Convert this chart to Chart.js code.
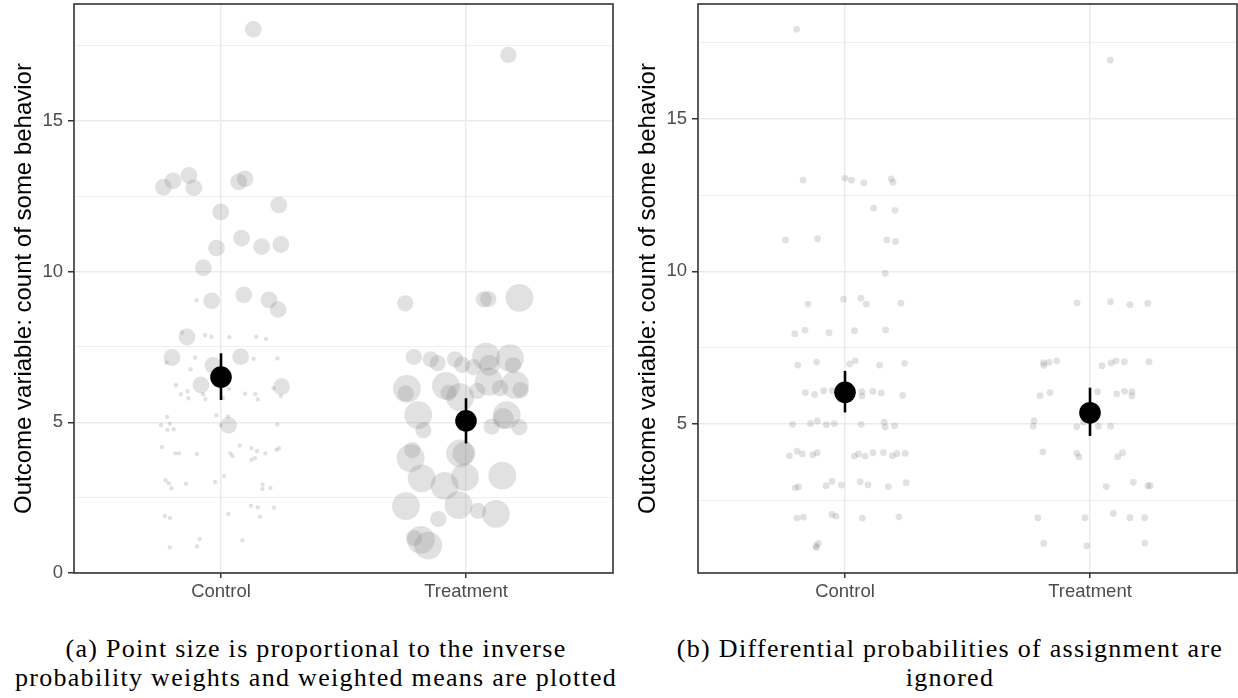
<!DOCTYPE html>
<html>
<head>
<meta charset="utf-8">
<script src="https://cdn.jsdelivr.net/npm/chart.js@4.4.1/dist/chart.umd.min.js"></script>
<style>
  body { margin: 0; background: #fff; width: 1238px; height: 698px; position: relative; overflow: hidden; }
  canvas { position: absolute; top: 0; }
  #weightedChart { left: 0; }
  #unweightedChart { left: 624px; }
  .caption {
    position: absolute;
    top: 634px;
    font-family: "Liberation Serif", serif;
    font-size: 26px;
    letter-spacing: 1.3px;
    line-height: 29px;
    text-align: center;
    color: #000;
    white-space: nowrap;
  }
  #captionA { left: 0; width: 632px; }
  #captionB { left: 650px; width: 600px; }
</style>
</head>
<body>
<canvas id="weightedChart" width="614" height="610"></canvas>
<canvas id="unweightedChart" width="614" height="610"></canvas>
<div class="caption" id="captionA">(a) Point size is proportional to the inverse<br>probability weights and weighted means are plotted</div>
<div class="caption" id="captionB">(b) Differential probabilities of assignment are<br>ignored</div>

<script>
const groups = ["Control", "Treatment"];
const yTitle = "Outcome variable: count of some behavior";

// panel (a): every unit sized by its inverse probability weight
const ctrlJitterA = [0.132, -0.235, -0.196, -0.131, -0.111, 0.072, 0.098, -0.001, 0.236, 0.084, -0.018, 0.166, 0.244, -0.072, -0.038, 0.093, 0.196, 0.233, -0.139, -0.200, 0.080, -0.033, -0.082, 0.247, 0.031,
  -0.100, -0.159, -0.065, -0.039, 0.034, 0.144, 0.184, -0.222, -0.106, 0.133, 0.230, -0.124, -0.184, -0.137, -0.164, -0.133, -0.064, -0.073, 0.033, 0.008, 0.098, 0.140, 0.150, 0.215, 0.244,
  -0.220, -0.245, -0.209, -0.219, -0.193, -0.019, 0.029, -0.001, 0.230, -0.241, -0.186, -0.171, -0.099, 0.038, 0.047, 0.076, 0.124, 0.147, 0.138, 0.124, 0.181, 0.227, 0.236,
  -0.226, -0.213, -0.202, -0.143, -0.024, 0.012, 0.170, 0.169, 0.202, -0.229, -0.208, 0.030, 0.122, 0.150, 0.159, 0.216, -0.087, -0.098, -0.209, 0.087];
const ctrlOutcomeA = [18.04, 12.80, 13.01, 13.19, 12.78, 12.98, 13.08, 11.98, 12.21, 11.11, 10.78, 10.83, 10.90, 10.13, 9.03, 9.23, 9.06, 8.74, 7.83, 7.15, 7.18, 6.89, 6.24, 6.18, 4.90,
  9.05, 7.98, 7.89, 7.84, 7.82, 7.84, 7.77, 6.98, 7.14, 7.11, 7.12, 6.76, 6.23, 6.03, 5.93, 5.80, 5.77, 5.93, 6.11, 5.81, 5.95, 5.93, 5.76, 6.13, 5.87,
  5.18, 4.91, 4.95, 4.75, 4.77, 5.23, 5.19, 4.90, 4.93, 4.18, 3.97, 3.97, 3.95, 3.97, 3.88, 4.23, 4.14, 4.05, 3.81, 3.75, 3.97, 4.09, 4.14,
  3.08, 2.98, 2.81, 2.96, 3.02, 3.21, 2.94, 2.79, 2.82, 1.89, 1.83, 1.96, 2.23, 2.18, 1.87, 2.17, 1.13, 0.89, 0.85, 1.09];
const ctrlWeightA = [16, 16, 16, 16, 16, 16, 16, 16, 16, 16, 16, 16, 16, 16, 16, 16, 16, 16, 16, 16, 16, 16, 16, 16, 16,
  1.1, 1.1, 1.1, 1.1, 1.1, 1.1, 1.1, 1.1, 1.1, 1.1, 1.1, 1.1, 1.1, 1.1, 1.1, 1.1, 1.1, 1.1, 1.1, 1.1, 1.1, 1.1, 1.1, 1.1, 1.1,
  1.1, 1.1, 1.1, 1.1, 1.1, 1.1, 1.1, 1.1, 1.1, 1.1, 1.1, 1.1, 1.1, 1.1, 1.1, 1.1, 1.1, 1.1, 1.1, 1.1, 1.1, 1.1, 1.1,
  1.1, 1.1, 1.1, 1.1, 1.1, 1.1, 1.1, 1.1, 1.1, 1.1, 1.1, 1.1, 1.1, 1.1, 1.1, 1.1, 1.1, 1.1, 1.1, 1.1];

const trtJitterA = [-0.248, 0.073, 0.091, 0.218, 0.173, -0.213, -0.144, -0.116, -0.045, -0.016, 0.030, 0.082, 0.180, 0.192, 0.095, -0.241,
  -0.246, -0.082, -0.071, -0.024, 0.046, 0.093, 0.139, 0.200, 0.223, -0.195, -0.174, 0.166, 0.152, 0.105, 0.218, -0.226,
  -0.219, -0.024, -0.008, -0.181, -0.087, -0.004, 0.148, -0.245, -0.113, -0.030, 0.049, 0.122, -0.184, -0.154, -0.212];
const trtOutcomeA = [8.95, 9.08, 9.09, 9.13, 17.19, 7.17, 7.09, 6.96, 7.09, 6.91, 6.83, 7.18, 7.13, 6.89, 6.89, 6.11,
  5.96, 6.21, 5.98, 5.83, 6.04, 6.35, 6.13, 6.24, 6.07, 5.24, 4.74, 5.24, 5.13, 4.86, 4.84, 3.81,
  4.08, 3.97, 3.97, 3.14, 2.89, 3.18, 3.23, 2.22, 1.79, 2.25, 2.06, 1.96, 1.10, 0.91, 1.16];
const trtWeightA = [15, 15, 15, 44, 15, 15, 15, 15, 15, 15, 15, 44, 44, 15, 25, 44,
  15, 44, 15, 44, 15, 44, 15, 44, 15, 44, 15, 44, 25, 15, 15, 44,
  15, 44, 30, 44, 44, 44, 44, 44, 15, 44, 15, 44, 44, 44, 15];

// weighted group means with their intervals
const meanA = [6.50, 5.05];
const lowerA = [5.74, 4.30];
const upperA = [7.29, 5.80];

// panel (b): same outcomes, no weighting
const ctrlJitterB = [-0.197, -0.171, 0.000, 0.026, 0.077, 0.189, 0.196, 0.117, 0.204, -0.243, -0.112, 0.171, 0.206, 0.164,
  -0.151, -0.006, 0.065, 0.087, 0.228, -0.205, -0.163, -0.065, 0.039, 0.166, -0.193, -0.116, 0.019, 0.042, 0.141, 0.243,
  -0.162, -0.124, -0.087, -0.053, 0.069, 0.069, 0.114, 0.148, 0.235, -0.214, -0.141, -0.113, -0.076, -0.044, 0.066, 0.160, 0.164, 0.202,
  -0.227, -0.196, -0.174, -0.132, -0.114, 0.038, 0.055, 0.082, 0.114, 0.157, 0.193, 0.212, 0.246,
  -0.203, -0.190, -0.077, -0.053, -0.015, 0.062, 0.094, 0.177, 0.250, -0.196, -0.170, -0.053, -0.037, 0.071, 0.220, -0.118, -0.109, -0.117];
const ctrlOutcomeB = [17.93, 12.99, 13.05, 12.99, 12.90, 13.03, 12.92, 12.07, 12.00, 11.03, 11.07, 11.03, 10.98, 9.94,
  8.93, 9.09, 9.12, 8.93, 8.96, 7.96, 8.07, 7.99, 8.06, 8.08, 6.93, 7.03, 6.97, 7.07, 6.93, 6.99,
  6.03, 5.97, 6.09, 6.09, 6.06, 5.92, 6.07, 6.02, 5.94, 4.99, 5.02, 5.10, 4.98, 5.01, 4.99, 5.06, 4.90, 4.94,
  3.96, 4.11, 4.02, 3.99, 4.06, 3.95, 4.02, 3.95, 4.06, 4.07, 3.96, 4.03, 4.04,
  2.91, 2.94, 2.98, 3.12, 3.00, 3.11, 3.01, 2.95, 3.08, 1.92, 1.95, 2.04, 1.98, 1.92, 1.96, 1.01, 1.09, 0.95];

const trtJitterB = [0.083, -0.053, 0.084, 0.163, 0.236, -0.190, -0.188, -0.167, -0.136, 0.049, 0.086, 0.106, 0.140, 0.241,
  -0.204, -0.163, 0.031, 0.109, 0.141, 0.171, 0.171, -0.228, -0.232, -0.054, -0.027, 0.034, 0.084,
  -0.192, -0.054, -0.045, 0.113, 0.133, 0.066, 0.177, 0.236, 0.245, -0.213, -0.020, 0.095, 0.163, 0.223, -0.189, -0.013, 0.224];
const trtOutcomeB = [16.92, 8.97, 9.01, 8.91, 8.95, 7.01, 6.92, 7.02, 7.07, 6.91, 7.00, 7.07, 7.04, 7.04,
  5.93, 6.03, 6.06, 5.99, 6.07, 6.06, 5.92, 5.11, 4.93, 4.91, 5.06, 4.93, 4.93,
  4.09, 4.04, 3.92, 3.93, 4.06, 2.95, 3.09, 2.98, 2.98, 1.93, 1.93, 2.07, 1.93, 1.93, 1.09, 1.01, 1.10];

const meanB = [6.04, 5.37];
const lowerB = [5.38, 4.61];
const upperB = [6.74, 6.19];

const yTicksA = [0, 2.5, 5, 7.5, 10, 12.5, 15, 17.5];
const yTicksB = [2.5, 5, 7.5, 10, 12.5, 15, 17.5];

const pointFill = "rgba(127,127,127,0.23)";
const gridColor = "#ebebeb";
const tickFont = { family: "'Liberation Sans', Arial, sans-serif", size: 18.5 };

// jittered position inside a category
function toPoints(group, jitter, values) {
  return jitter.map((j, i) => ({ x: group + j, y: values[i] }));
}

// point size follows the weight (area scale)
function weightRadius(w) {
  return 2.1 * Math.sqrt(w);
}

// frame round the plotting panel
const panelBorder = {
  id: "panelBorder",
  afterDraw(chart) {
    const { ctx, chartArea: a } = chart;
    ctx.save();
    ctx.strokeStyle = "#333333";
    ctx.lineWidth = 1.6;
    ctx.strokeRect(a.left, a.top, a.right - a.left, a.bottom - a.top);
    ctx.restore();
  },
};

function buildPanel(canvasId, ctrlPts, ctrlR, trtPts, trtR, means, lower, upper, yMin, yMax, yTicks) {
  const datasets = [
    { data: ctrlPts, pointRadius: ctrlR, backgroundColor: pointFill, borderWidth: 0, order: 3 },
    { data: trtPts, pointRadius: trtR, backgroundColor: pointFill, borderWidth: 0, order: 3 },
  ];
  // interval lines
  means.forEach((m, i) => {
    datasets.push({
      data: [{ x: i + 1, y: lower[i] }, { x: i + 1, y: upper[i] }],
      showLine: true,
      borderColor: "#000",
      borderWidth: 2.6,
      pointRadius: 0,
      order: 2,
    });
  });
  // group means
  datasets.push({
    data: means.map((m, i) => ({ x: i + 1, y: m })),
    pointRadius: 10.8,
    backgroundColor: "#000",
    borderWidth: 0,
    order: 1,
  });

  return new Chart(document.getElementById(canvasId), {
    type: "scatter",
    data: { datasets: datasets },
    options: {
      responsive: false,
      animation: false,
      events: [],
      layout: { autoPadding: false, padding: { top: 4, right: 1, bottom: 0, left: 0 } },
      plugins: { legend: { display: false }, tooltip: { enabled: false } },
      scales: {
        x: {
          type: "linear",
          min: 0.4,
          max: 2.6,
          afterBuildTicks: (axis) => {
            axis.ticks = groups.map((g, i) => ({ value: i + 1 }));
          },
          afterFit: (axis) => {
            axis.height = 37;
            axis.paddingLeft = 0;
            axis.paddingRight = 0;
          },
          border: { display: false },
          grid: { color: gridColor, lineWidth: 1.5, tickColor: "#333333", tickLength: 5, tickWidth: 1.5 },
          ticks: {
            color: "#4d4d4d",
            font: tickFont,
            padding: 3,
            maxRotation: 0,
            autoSkip: false,
            callback: (v) => groups[v - 1],
          },
        },
        y: {
          type: "linear",
          min: yMin,
          max: yMax,
          afterBuildTicks: (axis) => {
            axis.ticks = yTicks.map((v) => ({ value: v }));
          },
          afterFit: (axis) => {
            axis.width = 74;
            axis.paddingTop = 0;
            axis.paddingBottom = 0;
          },
          border: { display: false },
          grid: {
            color: gridColor,
            lineWidth: (ctx) => (ctx.tick && ctx.tick.value % 5 === 0 ? 1.5 : 0.8),
            tickColor: "#333333",
            tickLength: 6,
            tickWidth: (ctx) => (ctx.tick && ctx.tick.value % 5 === 0 ? 1.5 : 0),
          },
          ticks: {
            color: "#4d4d4d",
            font: tickFont,
            padding: 5,
            autoSkip: false,
            callback: (v) => (v % 5 === 0 ? String(v) : ""),
          },
          title: {
            display: true,
            text: yTitle,
            color: "#000",
            font: { family: "'Liberation Sans', Arial, sans-serif", size: 24 },
            padding: { top: 10, bottom: 0 },
          },
        },
      },
    },
    plugins: [panelBorder],
  });
}

buildPanel(
  "weightedChart",
  toPoints(1, ctrlJitterA, ctrlOutcomeA), ctrlWeightA.map(weightRadius),
  toPoints(2, trtJitterA, trtOutcomeA), trtWeightA.map(weightRadius),
  meanA, lowerA, upperA, 0, 18.88, yTicksA
);

buildPanel(
  "unweightedChart",
  toPoints(1, ctrlJitterB, ctrlOutcomeB), 3.4,
  toPoints(2, trtJitterB, trtOutcomeB), 3.4,
  meanB, lowerB, upperB, 0.12, 18.76, yTicksB
);
</script>
</body>
</html>
